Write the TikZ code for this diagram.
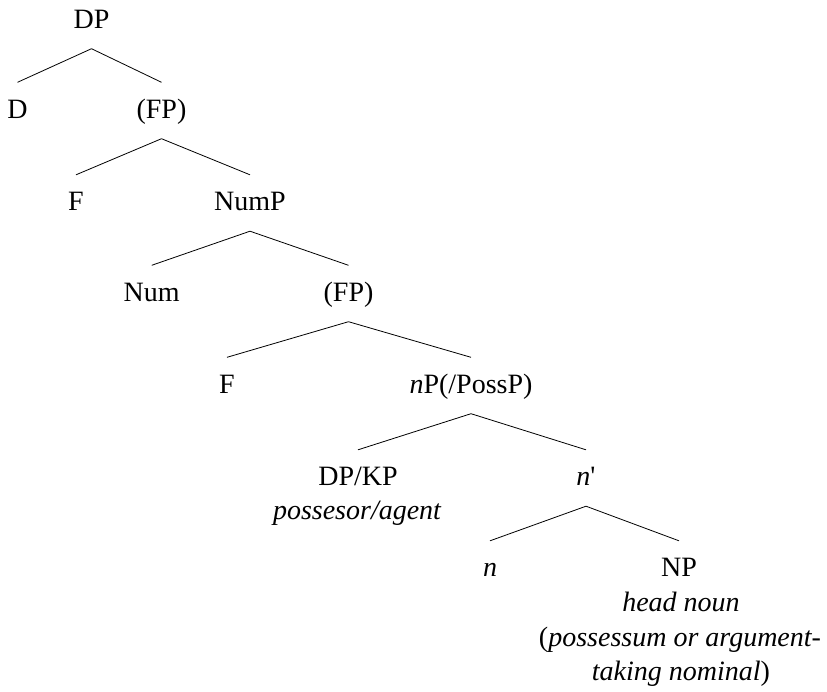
\documentclass[tikz,border=0pt]{standalone}
\usepackage{fontspec}
\setmainfont{Liberation Serif}
\newfontfamily\treefont{Liberation Serif}

\tikzset{
    cat/.style={anchor=base, inner sep=0pt, text height=35.5pt, text depth=20.5pt},
    gloss/.style={anchor=base, inner sep=0pt, font=\treefont\fontsize{28}{34.5}\selectfont\itshape},
    branch/.style={line width=0.8pt}
}

\begin{document}
\begin{tikzpicture}[x=1pt, y=-1pt, every node/.append style={font=\treefont\fontsize{28}{34.5}\selectfont}]
    \useasboundingbox (0,0) rectangle (827,691);

    % top of the tree
    \node[cat] (dp) at (91.5,28) {DP};
    \node[cat] (d) at (17.5,118) {D};
    \node[cat] (fpa) at (161.5,118) {(FP)};

    \node[cat] (fa) at (76,210.5) {F};
    \node[cat] (nump) at (250,210.5) {NumP};

    \node[cat] (num) at (151.7,301) {Num};
    \node[cat] (fpb) at (348.5,301) {(FP)};

    \node[cat] (fb) at (227,393) {F};
    \node[cat] (littlenp) at (471,393) {\textit{n}P(/PossP)};

    % possessor and n-bar
    \node[cat] (dpkp) at (358,485.5) {DP/KP};
    \node[gloss] (agent) at (357,519) {possesor/agent};
    \node[cat] (nbar) at (586,485.5) {\textit{n}\textquotesingle};

    \node[cat] (n) at (490,576.5) {\textit{n}};
    \node[cat] (np) at (679,576.5) {NP};
    \node[gloss] (headnoun) at (681,611) {head noun};
    \node[gloss] (possessum) at (680,646) {\textup{(}possessum or argument-};
    \node[gloss] (taking) at (681,680.5) {taking nominal\textup{)}};

    % branches
    \draw[branch] (dp.south) -- (d.north);
    \draw[branch] (dp.south) -- (fpa.north);
    \draw[branch] (fpa.south) -- (fa.north);
    \draw[branch] (fpa.south) -- (nump.north);
    \draw[branch] (nump.south) -- (num.north);
    \draw[branch] (nump.south) -- (fpb.north);
    \draw[branch] (fpb.south) -- (fb.north);
    \draw[branch] (fpb.south) -- (littlenp.north);
    \draw[branch] (littlenp.south) -- (dpkp.north);
    \draw[branch] (littlenp.south) -- (nbar.north);
    \draw[branch] (nbar.south) -- (n.north);
    \draw[branch] (nbar.south) -- (np.north);

\end{tikzpicture}
\end{document}
